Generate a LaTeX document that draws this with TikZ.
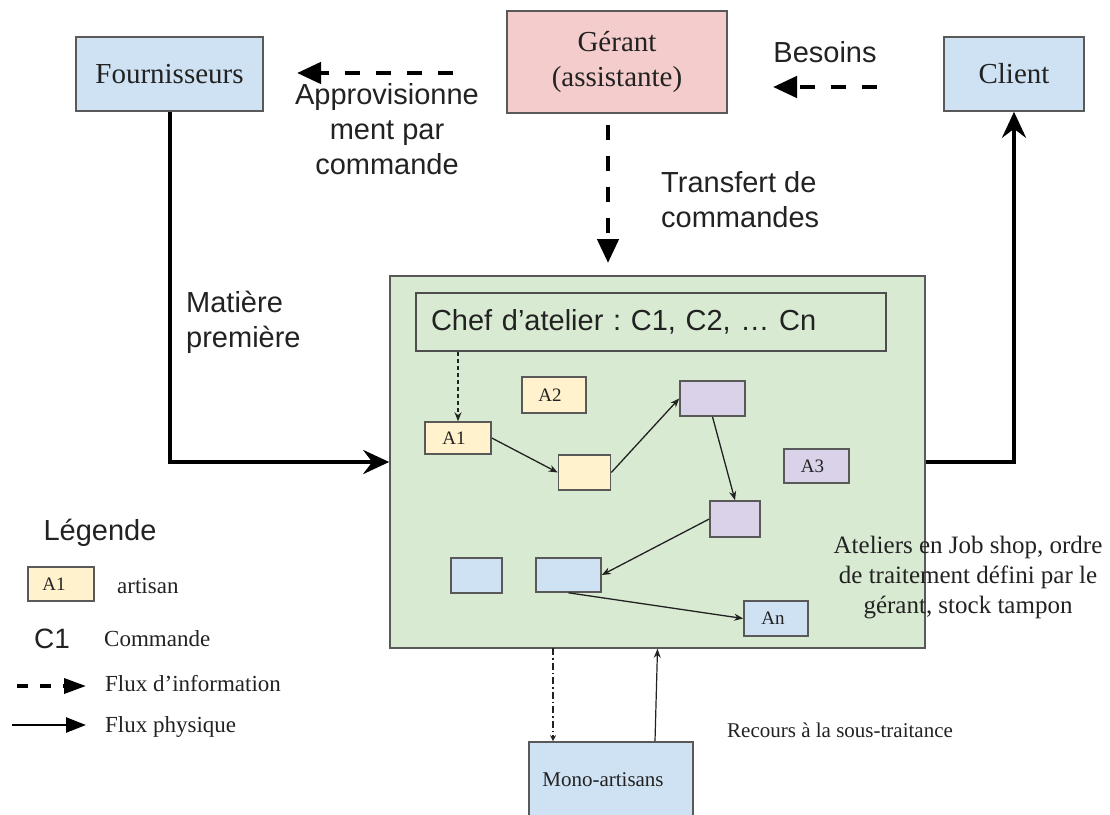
\documentclass[tikz,border=0pt]{standalone}
\usepackage{fontspec}
\setmainfont{Liberation Serif}
\newfontfamily\sansf{Liberation Sans}
\usetikzlibrary{arrows.meta,calc}
\frenchspacing

\definecolor{boxblue}{HTML}{CFE2F3}
\definecolor{boxpink}{HTML}{F4CCCC}
\definecolor{boxgreen}{HTML}{D9EAD3}
\definecolor{boxyellow}{HTML}{FFF2CC}
\definecolor{boxpurple}{HTML}{D9D2E9}
\definecolor{edge}{HTML}{595959}
\definecolor{ink}{HTML}{222222}

\tikzset{
  actor/.style={draw=edge, line width=1.6pt, inner sep=0pt, align=center,
    font=\fontsize{29}{35}\selectfont, text=ink},
  cell/.style={draw=edge, line width=1.6pt, inner sep=0pt,
    font=\fontsize{19}{21}\selectfont, text=ink},
  sanslabel/.style={inner sep=0pt, text=ink, font=\sansf\fontsize{29}{35}\selectfont},
  seriflabel/.style={inner sep=0pt, text=ink, font=\fontsize{23}{27}\selectfont},
  infoflow/.style={line width=4.5pt, dash pattern=on 15pt off 16pt,
    -{Triangle[length=24pt,width=21pt]}},
  physflow/.style={line width=4pt, -{Stealth[length=26pt,width=24pt,inset=9pt]}},
  thinflow/.style={line width=1.3pt, draw=ink, -{Stealth[length=9pt,width=7pt]}},
}

\begin{document}
\begin{tikzpicture}[x=1pt,y=-1pt]
\clip (0,0) rectangle (1110,814);
\fill[white] (0,0) rectangle (1110,814);

% top row: suppliers, manager, customer
\node[actor, fill=boxblue, minimum width=187pt, minimum height=74pt] (four) at (169.5,74) {Fournisseurs};
\node[actor, fill=boxpink, minimum width=220pt, minimum height=102pt] (ger) at (617,62) {Gérant\\(assistante)};
\node[actor, fill=boxblue, minimum width=140pt, minimum height=74pt] (cli) at (1014,74) {Client};

% workshop
\node[draw=edge, line width=1.6pt, fill=boxgreen, minimum width=535pt, minimum height=372pt] (atel) at (657.5,462) {};
\node[draw=ink!80, line width=1.8pt, minimum height=58pt, text width=440pt, inner xsep=15pt,
  align=left, text=ink, font=\sansf\fontsize{29}{35}\selectfont] (chef) at (651,322) {Chef d’atelier : C1, C2, … Cn};

\node[cell, fill=boxyellow, minimum width=66pt, minimum height=32pt] (a1) at (458,438) {\hspace*{-8pt}A1};
\node[cell, fill=boxyellow, minimum width=64pt, minimum height=36pt] (a2) at (554,395) {\hspace*{-8pt}A2};
\node[cell, fill=boxyellow, minimum width=52pt, minimum height=35pt] (y2) at (584.5,472.5) {};
\node[cell, fill=boxpurple, minimum width=65pt, minimum height=35pt] (p1) at (712.5,398.5) {};
\node[cell, fill=boxpurple, minimum width=65pt, minimum height=34pt] (a3) at (816.5,466) {\hspace*{-8pt}A3};
\node[cell, fill=boxpurple, minimum width=50pt, minimum height=36pt] (p2) at (735,519) {};
\node[cell, fill=boxblue, minimum width=51pt, minimum height=35pt] (b1) at (476.5,575.5) {};
\node[cell, fill=boxblue, minimum width=65pt, minimum height=34pt] (b2) at (568.5,575) {};
\node[cell, fill=boxblue, minimum width=64pt, minimum height=35pt] (an) at (776,618.5) {\hspace*{-6pt}An};

\draw[thinflow, dash pattern=on 4pt off 3pt] (chef.south -| a1.north) -- (a1.north);
\draw[thinflow] (a1.east) -- (y2.west);
\draw[thinflow] (y2.east) -- (p1.west);
\draw[thinflow] (p1.south) -- (p2.north);
\draw[thinflow] (p2.west) -- (b2.east);
\draw[thinflow] (b2.south) -- (an.west);

\node[inner sep=0pt, align=center, text=ink, font=\fontsize{25}{30}\selectfont] (atxt) at (968,578)
  {Ateliers en Job shop, ordre\\de traitement défini par le\\gérant, stock tampon};

% subcontracting
\node[actor, fill=boxblue, minimum width=164pt, minimum height=96pt] (mono) at (611,790) {};
\node[inner sep=0pt, text=ink, font=\fontsize{21}{25}\selectfont] (monot) at (603,780) {Mono-artisans};
\coordinate (mdT) at (553,648);
\draw[line width=1.2pt, draw=ink, dash pattern=on 7pt off 3pt on 1.5pt off 3pt,
  -{Stealth[length=6pt,width=6pt]}] (mdT) -- (mdT |- mono.north);
\draw[thinflow, line width=1.2pt] ($(mono.north)+(44,0)$) -- (atel.south);
\node[anchor=west, inner sep=0pt, text=ink, font=\fontsize{21}{25}\selectfont] (rec) at (727,730) {Recours à la sous-traitance};

% information flows
\coordinate (apS) at (453,73);
\coordinate (apE) at (297,73);
\draw[infoflow] (apS) -- (apE);
\node[sanslabel, align=center] (aptxt) at (387,129) {Approvisionne\\ment par\\commande};

\coordinate (beS) at (877,87);
\coordinate (beE) at (773,87);
\draw[infoflow] (beS) -- (beE);
\node[sanslabel] (betxt) at (825,52) {Besoins};

\coordinate (trS) at (608,125);
\coordinate (trE) at (608,263);
\draw[infoflow] (trS) -- (trE);
\node[sanslabel, align=left, anchor=west] (trtxt) at (661,199.5) {Transfert de\\commandes};

% physical flows
\draw[physflow] (four.south) |- (atel.west);
\draw[physflow] (atel.east) -| (cli.south);
\node[sanslabel, align=left, anchor=west] (mattxt) at (186,322.5) {Matière\\première};

% legend
\node[sanslabel] (legt) at (100,533) {Légende};
\node[cell, fill=boxyellow, minimum width=66pt, minimum height=34pt] (la1) at (61,584) {\hspace*{-14pt}A1};
\node[seriflabel, anchor=west] (lart) at (117,586) {artisan};
\node[inner sep=0pt, text=ink, font=\sansf\fontsize{28}{32}\selectfont] (lc1) at (52,639) {C1};
\node[seriflabel, anchor=west] (lcom) at (104,639) {Commande};
\coordinate (liS) at (17,686);
\coordinate (liE) at (86,686);
\draw[line width=3.5pt, dash pattern=on 11pt off 12pt, -{Triangle[length=22pt,width=15pt]}] (liS) -- (liE);
\node[seriflabel, anchor=west] (linf) at (105,684) {Flux d’information};
\coordinate (lpS) at (12,725);
\coordinate (lpE) at (86,725);
\draw[line width=2.6pt, -{Triangle[length=20pt,width=15pt]}] (lpS) -- (lpE);
\node[seriflabel, anchor=west] (lphy) at (105,727) {Flux physique};
\end{tikzpicture}
\end{document}
